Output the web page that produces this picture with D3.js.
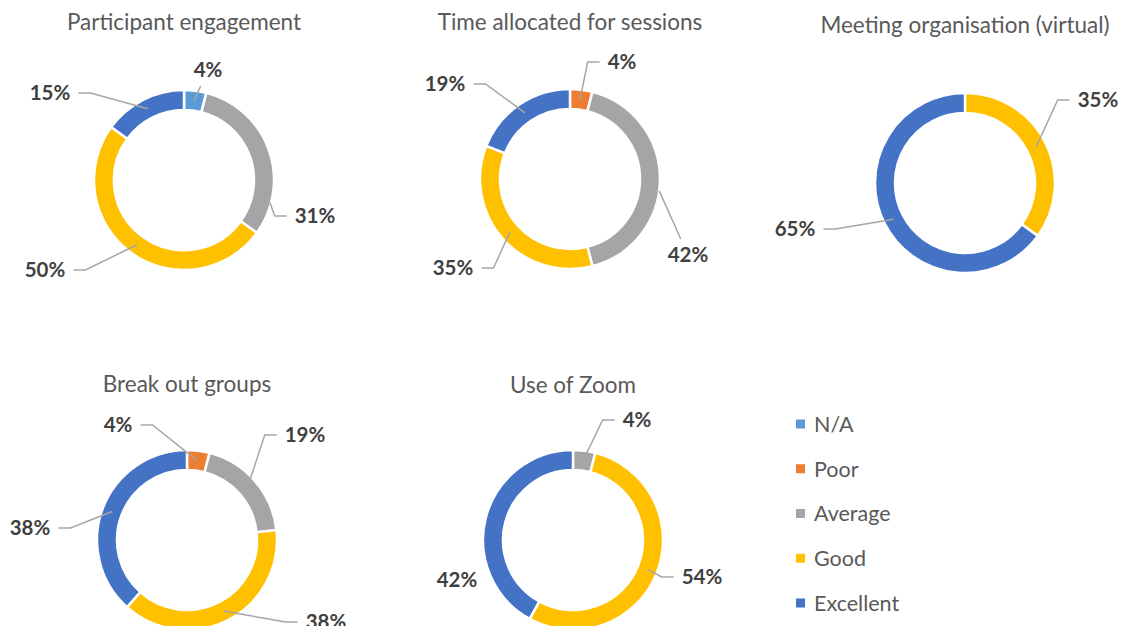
<!DOCTYPE html>
<html>
<head>
<meta charset="utf-8">
<script src="https://cdn.jsdelivr.net/npm/d3@7"></script>
<style>
  body { margin: 0; background: #ffffff; }
  .chart-title { font-family: Lato, "Open Sans", sans-serif; font-size: 22.5px; fill: #595959; }
  .slice-label { font-family: Lato, "Open Sans", sans-serif; font-size: 20.5px; font-weight: bold; fill: #404040; }
  .legend-text { font-family: Lato, "Open Sans", sans-serif; font-size: 21.5px; fill: #595959; }
</style>
</head>
<body>
<div class="chart"></div>
<script>
var svgWidth = 1123;
var svgHeight = 626;

// Rating categories (same order in every donut, clockwise from 12 o'clock)
var categories = ["N/A", "Poor", "Average", "Good", "Excellent"];

// Percent of answers per category, one array per question
var participantEngagement = [4, 0, 31, 50, 15];
var timeAllocated = [0, 4, 42, 35, 19];
var meetingOrganisation = [0, 0, 0, 35, 65];
var breakOutGroups = [0, 4, 19, 38, 38];
var useOfZoom = [0, 0, 4, 54, 42];

var colors = ["#5B9BD5", "#ED7D31", "#A5A5A5", "#FFC000", "#4472C4"];

// Where each donut sits and where its labels were dragged to (offsets from the donut centre)
// mode "h" = elbow leader with a short horizontal stub, "d" = straight leader, null = no leader
var charts = [
  { title: "Participant engagement", values: participantEngagement, cx: 184, cy: 180, titleY: 30,
    labels: [
      { dx: 24, dy: -110, mode: "d" },
      null,
      { dx: 131, dy: 36, mode: "h", at: 0.81, r: 89 },
      { dx: -139, dy: 90, mode: "h" },
      { dx: -134, dy: -87, mode: "h" }
    ] },
  { title: "Time allocated for sessions", values: timeAllocated, cx: 570, cy: 179, titleY: 30,
    labels: [
      null,
      { dx: 52, dy: -117, mode: "h" },
      { dx: 118, dy: 76, mode: "d", at: 0.55, r: 90 },
      { dx: -117, dy: 89, mode: "h" },
      { dx: -125, dy: -95, mode: "h" }
    ] },
  { title: "Meeting organisation (virtual)", values: meetingOrganisation, cx: 965, cy: 183, titleY: 33,
    labels: [
      null, null, null,
      { dx: 133, dy: -83, mode: "h" },
      { dx: -170, dy: 46, mode: "h" }
    ] },
  { title: "Break out groups", values: breakOutGroups, cx: 187, cy: 540, titleY: 392,
    labels: [
      null,
      { dx: -69, dy: -115, mode: "h" },
      { dx: 118, dy: -105, mode: "h" },
      { dx: 139, dy: 82, mode: "h" },
      { dx: -157, dy: -12, mode: "h" }
    ] },
  { title: "Use of Zoom", values: useOfZoom, cx: 573, cy: 540, titleY: 393,
    labels: [
      null, null,
      { dx: 64, dy: -120, mode: "h" },
      { dx: 129, dy: 37, mode: "h" },
      { dx: -116, dy: 40, mode: null }
    ] }
];

var innerRadius = 70;
var outerRadius = 90;

var svg = d3
  .select(".chart")
  .append("svg")
  .attr("width", svgWidth)
  .attr("height", svgHeight);

var colorScale = d3.scaleOrdinal().domain(categories).range(colors);

var pie = d3.pie()
  .sort(null)
  .value(function(d) { return d; });

var arc = d3.arc()
  .innerRadius(innerRadius)
  .outerRadius(outerRadius);

function polar(angle, r) {
  return [r * Math.sin(angle), -r * Math.cos(angle)];
}

charts.forEach(function(chart) {
  svg.append("text")
    .attr("class", "chart-title")
    .attr("x", chart.cx)
    .attr("y", chart.titleY)
    .attr("text-anchor", "middle")
    .text(chart.title);

  var g = svg.append("g")
    .attr("transform", "translate(" + chart.cx + "," + chart.cy + ")");

  var slices = pie(chart.values).filter(function(d) { return d.value > 0; });

  g.selectAll("path.slice")
    .data(slices)
    .enter()
    .append("path")
    .attr("class", "slice")
    .attr("d", arc)
    .attr("fill", function(d) { return colorScale(categories[d.index]); })
    .attr("stroke", "#ffffff")
    .attr("stroke-width", 2.5);

  slices.forEach(function(d) {
    var lab = chart.labels[d.index];
    if (!lab) return;

    var text = g.append("text")
      .attr("class", "slice-label")
      .attr("x", lab.dx)
      .attr("y", lab.dy)
      .attr("dy", "0.36em")
      .attr("text-anchor", "middle")
      .text(d.value + "%");

    if (!lab.mode) return;

    var box = text.node().getBBox();
    var at = lab.at === undefined ? 0.5 : lab.at;
    var r = lab.r === undefined ? (innerRadius + outerRadius) / 2 : lab.r;
    var anchor = polar(d.startAngle + at * (d.endAngle - d.startAngle), r);
    var points;

    if (lab.mode === "h") {
      var x1, x2;
      if (anchor[0] < lab.dx) {
        x1 = box.x - 8;
        x2 = x1 - 12;
      } else {
        x1 = box.x + box.width + 8;
        x2 = x1 + 12;
      }
      points = [anchor, [x2, lab.dy], [x1, lab.dy]];
    } else {
      // straight line toward the label centre, stopping short of its box
      var pad = 8;
      var left = box.x - pad, right = box.x + box.width + pad;
      var top = lab.dy - 8 - pad, bottom = lab.dy + 8 + pad;
      var vx = lab.dx - anchor[0], vy = lab.dy - anchor[1];
      var tx = 0, ty = 0;
      if (anchor[0] < left) tx = (left - anchor[0]) / vx;
      if (anchor[0] > right) tx = (right - anchor[0]) / vx;
      if (anchor[1] < top) ty = (top - anchor[1]) / vy;
      if (anchor[1] > bottom) ty = (bottom - anchor[1]) / vy;
      var t = Math.max(tx, ty);
      points = [anchor, [anchor[0] + t * vx, anchor[1] + t * vy]];
    }

    g.append("path")
      .attr("d", d3.line()(points))
      .attr("fill", "none")
      .attr("stroke", "#A6A6A6")
      .attr("stroke-width", 1.5);
  });
});

// Legend
var legendY = d3.scalePoint()
  .domain(categories)
  .range([424, 603]);

var legend = svg.selectAll("g.legend-item")
  .data(categories)
  .enter()
  .append("g")
  .attr("class", "legend-item")
  .attr("transform", function(d) { return "translate(796," + legendY(d) + ")"; });

legend.append("rect")
  .attr("x", 0)
  .attr("y", -4.5)
  .attr("width", 9)
  .attr("height", 9)
  .attr("fill", function(d) { return colorScale(d); });

legend.append("text")
  .attr("class", "legend-text")
  .attr("x", 18)
  .attr("y", 0)
  .attr("dy", "0.36em")
  .text(function(d) { return d; });
</script>
</body>
</html>
